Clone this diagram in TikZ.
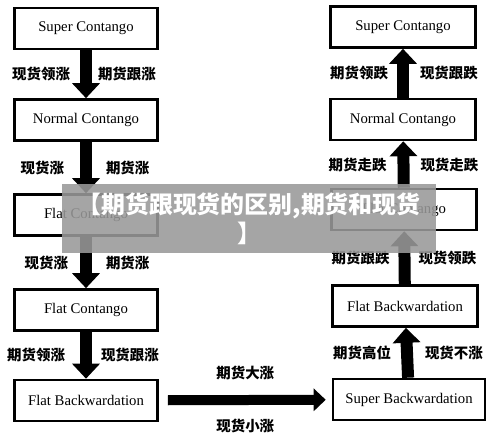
\documentclass[tikz,border=0pt]{standalone}
\usepackage{fontspec}
\setmainfont{Liberation Serif}
\newfontfamily\cjk{Noto Sans CJK SC}
\usetikzlibrary{arrows.meta}

\tikzset{
  state/.style={rectangle, draw, line width=2.6bp, minimum width=143bp, minimum height=41bp,
    font=\fontsize{14.8}{17}\selectfont},
  push/.style={line width=12bp, -{Triangle[width=27bp,length=15bp]}},
  lbl/.style={font=\cjk\bfseries\fontsize{14.5}{16}\selectfont, inner sep=0pt},
}

\begin{document}
\begin{tikzpicture}[x=1bp, y=-1bp]
\useasboundingbox (0,0) rectangle (500,438);

% left column: rising market
\node (sc) [state] at (86,28.5) {Super Contango};
\node (nc) [state] at (86,120) {Normal Contango};
\node (fc) [state] at (86,215) {Flat Contango};
\node (fcb) [state] at (86,310) {Flat Contango};
\node (fb) [state] at (86,400.5) {Flat Backwardation};

% right column: falling market
\node (sct) [state, minimum width=145bp] at (403,27) {Super Contango};
\node (nct) [state, minimum width=145bp] at (403,119.5) {Normal Contango};
\node (fct) [state, minimum width=145bp] at (404,209.5) {Flat Contango};
\node (fbt) [state, minimum width=145bp] at (405,306) {Flat Backwardation};
\node (sb) [state, minimum width=152bp] at (409,399.5) {Super Backwardation};

\draw[push] (sc) -- (nc)
  node[lbl, midway, left=10bp] (la1) {现货领涨}
  node[lbl, midway, right=6bp] (lb1) {期货跟涨};
\draw[push] (nc) -- (fc)
  node[lbl, midway, left=16bp] (la2) {现货涨}
  node[lbl, midway, right=14bp] (lb2) {期货涨};
\draw[push] (fc) -- (fcb)
  node[lbl, midway, left=12bp] (la3) {现货涨}
  node[lbl, midway, right=14bp] (lb3) {期货涨};
\draw[push] (fcb) -- (fb)
  node[lbl, midway, left=15bp] (la4) {期货领涨}
  node[lbl, midway, right=9bp] (lb4) {现货跟涨};

\draw[push, line width=10bp, -{Triangle[width=22bp,length=12bp]}, shorten <=9bp, shorten >=6bp] (fb) -- (sb)
  node[lbl, midway, above=15bp] (lh1) {期货大涨}
  node[lbl, midway, below=14bp] (lh2) {现货小涨};

\draw[push] (sb) -- (fbt)
  node[lbl, midway, left=10bp] (ra4) {期货高位}
  node[lbl, midway, right=12bp] (rb4) {现货不涨};
\draw[push] (fbt) -- (fct)
  node[lbl, midway, left=9bp] (ra3) {期货跟跌}
  node[lbl, midway, right=8bp] (rb3) {现货领跌};
\draw[push] (fct) -- (nct)
  node[lbl, midway, left=11bp] (ra2) {期货走跌}
  node[lbl, midway, right=11bp] (rb2) {现货走跌};
\draw[push] (nct) -- (sct)
  node[lbl, midway, left=9bp] (ra1) {期货领跌}
  node[lbl, midway, right=11bp] (rb1) {现货跟跌};

% title banner laid over the picture
\node (banner) [fill=black!40, fill opacity=0.88, text opacity=1, text=white,
  minimum width=374bp, minimum height=69bp, inner sep=0pt, align=center,
  font=\cjk\bfseries\fontsize{24}{29}\selectfont] at (249,218.5)
  {【期货跟现货的区别,期货和现货\\】};
\end{tikzpicture}
\end{document}
